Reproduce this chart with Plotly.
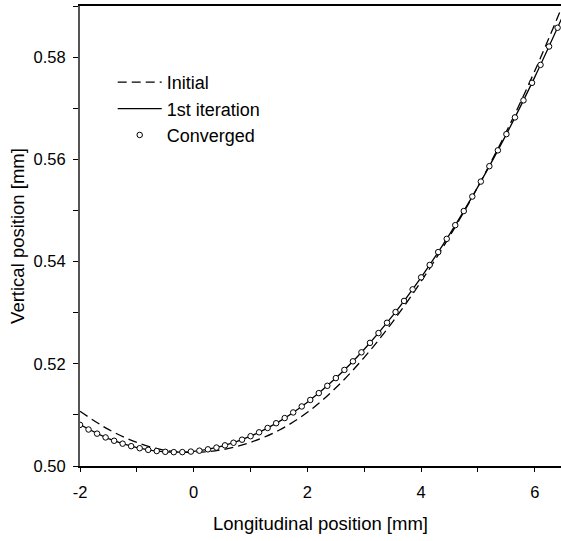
import plotly.graph_objects as go

# Converged solution (markers), x step 0.15 mm
conv_x = [round(-2 + 0.15 * k, 2) for k in range(58)]
conv_y = [0.50805, 0.50714, 0.50633, 0.50559, 0.50494, 0.50437, 0.50388, 0.50348,
          0.50316, 0.50293, 0.50277, 0.50271, 0.50272, 0.50282, 0.50300, 0.50326,
          0.50361, 0.50404, 0.50455, 0.50515, 0.50583, 0.50659, 0.50744, 0.50837,
          0.50938, 0.51048, 0.51165, 0.51292, 0.51426, 0.51569, 0.51720, 0.51880,
          0.52048, 0.52224, 0.52409, 0.52601, 0.52803, 0.53012, 0.53230, 0.53456,
          0.53691, 0.53933, 0.54185, 0.54444, 0.54712, 0.54988, 0.55272, 0.55565,
          0.55866, 0.56176, 0.56493, 0.56820, 0.57154, 0.57497, 0.57848, 0.58207,
          0.58575, 0.58950]

# 1st iteration (solid)
iter_x = [-2.0, -1.5, -1.0, -0.5, 0.0, 0.5, 1.0, 1.5, 2.0, 2.5, 3.0, 3.5, 4.0,
          4.5, 5.0, 5.5, 6.0, 6.5]
iter_y = [0.50810, 0.50536, 0.50361, 0.50277, 0.50287, 0.50388, 0.50583, 0.50869,
          0.51249, 0.51720, 0.52285, 0.52941, 0.53691, 0.54532, 0.55467, 0.56493,
          0.57613, 0.58824]

# Initial (dashed)
init_x = [-2.0, -1.5, -1.0, -0.5, 0.0, 0.5, 1.0, 1.5, 2.0, 2.5, 3.0, 3.5, 4.0,
          4.5, 5.0, 5.5, 6.0, 6.5]
init_y = [0.51070, 0.50716, 0.50461, 0.50307, 0.50267, 0.50318, 0.50463, 0.50700,
          0.51050, 0.51530, 0.52125, 0.52821, 0.53611, 0.54492, 0.55467, 0.56543,
          0.57733, 0.59044]

x_ticks = [-2, 0, 2, 4, 6]
y_ticks = [0.50, 0.52, 0.54, 0.56, 0.58]

FONT = "Liberation Sans, Arial, sans-serif"

fig = go.Figure()
fig.add_trace(go.Scatter(x=init_x, y=init_y, mode="lines", name="Initial",
                         line=dict(color="black", width=1.3, dash="9px,5px", shape="spline")))
fig.add_trace(go.Scatter(x=iter_x, y=iter_y, mode="lines", name="1st iteration",
                         line=dict(color="black", width=1.3, shape="spline")))
fig.add_trace(go.Scatter(x=conv_x, y=conv_y, mode="markers", name="Converged",
                         marker=dict(symbol="circle", size=5.5, color="white",
                                     line=dict(color="black", width=1))))

fig.update_layout(
    width=561, height=541,
    margin=dict(l=80, r=0, t=6, b=75),
    paper_bgcolor="white", plot_bgcolor="white",
    font=dict(family=FONT, size=16, color="black"),
    showlegend=True,
    legend=dict(x=0.068, y=0.874, xanchor="left", yanchor="top",
                bgcolor="rgba(0,0,0,0)", font=dict(size=18, family=FONT),
                tracegroupgap=0, itemwidth=44),
)
fig.update_xaxes(
    range=[-2, 6.46], tickvals=x_ticks, ticktext=[str(v) for v in x_ticks],
    ticks="outside", ticklen=4, tickwidth=1, tickcolor="black",
    minor=dict(dtick=1, tick0=-2, ticks="outside", ticklen=4, tickwidth=1, tickcolor="black"),
    showline=True, linecolor="black", linewidth=1.5, mirror=True,
    showgrid=False, zeroline=False, ticklabelstandoff=6,
    tickfont=dict(size=16.5), title=dict(text="Longitudinal position [mm]", font=dict(size=18.5), standoff=18),
)
fig.update_yaxes(
    range=[0.50, 0.59], tickvals=y_ticks, ticktext=[f"{v:.2f}" for v in y_ticks],
    ticks="outside", ticklen=5, tickwidth=1, tickcolor="black",
    minor=dict(dtick=0.01, tick0=0.5, ticks="outside", ticklen=5, tickwidth=1, tickcolor="black"),
    showline=True, linecolor="#555555", linewidth=2, mirror=False,
    showgrid=False, zeroline=False, ticklabelstandoff=4,
    tickfont=dict(size=16.5), title=dict(text="Vertical position [mm]", font=dict(size=18.5), standoff=4),
)

fig.write_html("out.html")
